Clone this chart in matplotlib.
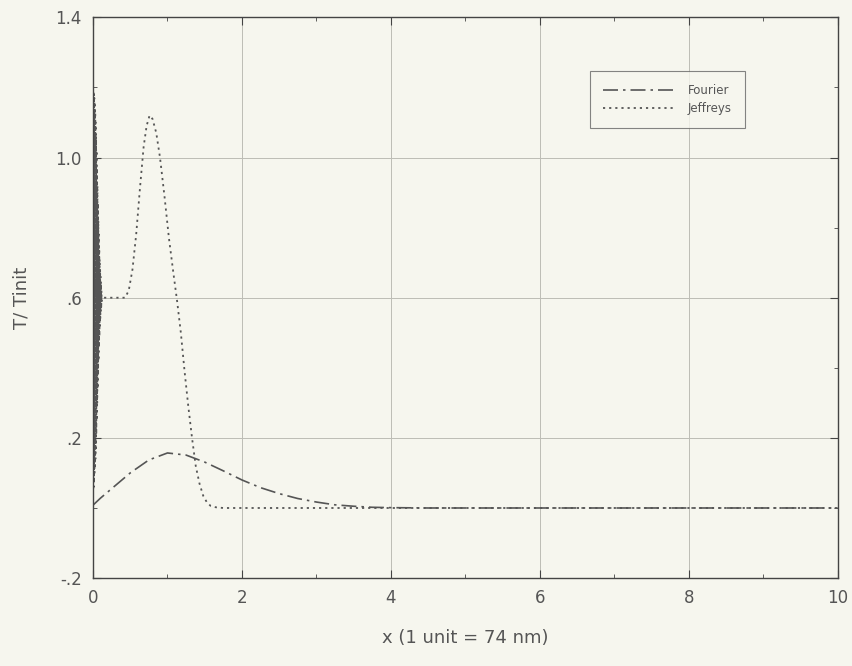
import matplotlib
matplotlib.use("Agg")
import matplotlib.pyplot as plt
from matplotlib.ticker import MultipleLocator, FixedLocator

# --- data ---
fourier_x = [0.0, 0.1, 0.25, 0.5, 0.75, 1.0, 1.25, 1.5, 1.75, 2.0, 2.25, 2.5,
             2.75, 3.0, 3.25, 3.5, 3.75, 4.0, 4.5, 5.0, 6.0, 8.0, 10.0]
fourier_y = [0.008, 0.028, 0.055, 0.100, 0.137, 0.157, 0.151, 0.131, 0.106,
             0.080, 0.058, 0.041, 0.027, 0.017, 0.009, 0.005, 0.002, 0.001,
             0.0, 0.0, 0.0, 0.0, 0.0]

# rapid oscillation of the Jeffreys solution next to x = 0
jeff_osc_x = [0.000, 0.003, 0.006, 0.009, 0.012, 0.015, 0.018, 0.021, 0.024,
              0.027, 0.030, 0.033, 0.036, 0.039, 0.042, 0.045, 0.048, 0.051,
              0.054, 0.057, 0.060, 0.063, 0.066, 0.069, 0.072, 0.075, 0.078,
              0.081, 0.084, 0.087, 0.090, 0.093, 0.096, 0.099, 0.102, 0.105,
              0.108, 0.111, 0.114, 0.117, 0.120]
jeff_osc_y = [1.20, 0.05, 1.19, 0.06, 1.18, 0.08, 1.17, 0.10, 1.15, 0.12,
              1.13, 0.14, 1.10, 0.17, 1.06, 0.21, 1.02, 0.25, 0.97, 0.30,
              0.92, 0.34, 0.87, 0.38, 0.82, 0.42, 0.78, 0.46, 0.74, 0.49,
              0.71, 0.52, 0.68, 0.54, 0.66, 0.56, 0.64, 0.57, 0.62, 0.59, 0.60]
jeff_x = [0.13, 0.30, 0.43, 0.48, 0.53, 0.58, 0.63, 0.68, 0.72, 0.76, 0.80,
          0.85, 0.90, 0.96, 1.02, 1.08, 1.13, 1.18, 1.23, 1.28, 1.33, 1.38,
          1.43, 1.48, 1.53, 1.58, 1.65, 1.75, 2.5, 5.0, 7.5, 10.0]
jeff_y = [0.60, 0.60, 0.60, 0.62, 0.68, 0.78, 0.91, 1.03, 1.09, 1.12, 1.11,
          1.07, 1.00, 0.89, 0.77, 0.67, 0.59, 0.50, 0.39, 0.29, 0.20, 0.12,
          0.07, 0.035, 0.016, 0.006, 0.002, 0.0, 0.0, 0.0, 0.0, 0.0]

y_ticks = [-0.2, 0.2, 0.6, 1.0, 1.4]
y_tick_labels = ["-.2", ".2", ".6", "1.0", "1.4"]
x_ticks = [0, 2, 4, 6, 8, 10]

bg = "#f6f6ee"
ink = "#555555"

fig = plt.figure(figsize=(8.53, 6.66), dpi=100, facecolor=bg)
ax = fig.add_axes([0.109, 0.132, 0.873, 0.842], facecolor=bg)

ax.plot(fourier_x, fourier_y, color=ink, lw=1.2, dashes=(9, 3, 1.5, 3),
        label="Fourier")
ax.plot(jeff_osc_x + jeff_x, jeff_osc_y + jeff_y, color=ink, lw=1.3,
        dashes=(1.2, 2.2), label="Jeffreys")

ax.set_xlim(0, 10)
ax.set_ylim(-0.2, 1.4)
ax.set_xticks(x_ticks)
ax.xaxis.set_minor_locator(MultipleLocator(1))
ax.yaxis.set_major_locator(FixedLocator(y_ticks))
ax.set_yticklabels(y_tick_labels)
ax.yaxis.set_minor_locator(FixedLocator([0.0, 0.4, 0.8, 1.2]))
ax.tick_params(which="both", direction="in", top=True, right=True,
               color="#444444", labelcolor="#555555", labelsize=12)
ax.tick_params(which="major", length=6, pad=8)
ax.tick_params(which="minor", length=3)
ax.grid(True, which="major", color="#bdbdb5", lw=0.7)
for s in ax.spines.values():
    s.set_color("#444444")
    s.set_linewidth(1.0)

ax.set_xlabel("x (1 unit = 74 nm)", fontsize=13, color="#555555", labelpad=16)
ax.set_ylabel("T/ Tinit", fontsize=13, color="#555555", labelpad=18)

leg = ax.legend(loc="upper left", bbox_to_anchor=(0.667, 0.904),
                fontsize=8.5, frameon=True, fancybox=False, handlelength=6,
                borderpad=1.1, labelspacing=0.4, handletextpad=1.2,
                borderaxespad=0)
leg.get_frame().set_edgecolor("#666666")
leg.get_frame().set_facecolor(bg)
leg.get_frame().set_linewidth(0.8)
for t in leg.get_texts():
    t.set_color("#555555")

fig.savefig("out.png", dpi=100, facecolor=bg)
